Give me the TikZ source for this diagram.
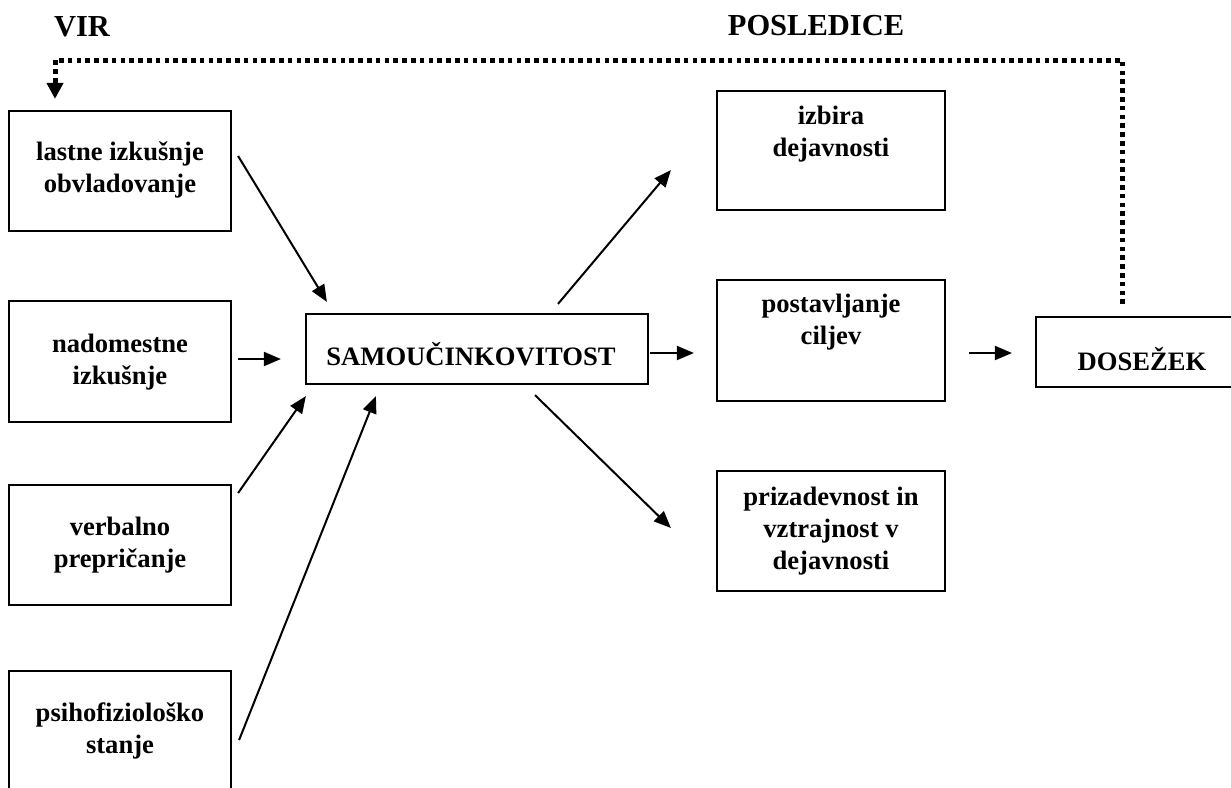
\documentclass[tikz,border=0pt]{standalone}
\usepackage{fontspec}
\setmainfont{Liberation Serif}
\usetikzlibrary{arrows.meta,calc}

\tikzset{
  box/.style={draw, line width=2.2pt, rectangle, inner sep=0pt, minimum width=222pt, minimum height=120pt},
  label/.style={align=center, inner sep=0pt, font=\fontsize{26.6}{32}\selectfont\bfseries},
  heading/.style={inner sep=0pt, font=\fontsize{30.5}{36}\selectfont\bfseries},
  flow/.style={line width=2pt, -{Triangle[length=17pt,width=14pt]}},
  feedback/.style={line width=5pt, dash pattern=on 4.6pt off 4.2pt, -{Triangle[length=16pt,width=16pt]}}
}

\begin{document}
\begin{tikzpicture}[x=1pt, y=-1pt]
\useasboundingbox (0,0) rectangle (1231,787);
\clip (0,0) rectangle (1231,787);

% headings
\node[heading] (vir) at (82,27) {VIR};
\node[heading] (posl) at (816,26) {POSLEDICE};

% sources
\node[box] (b1) at (120,171) {};
\node[box, minimum height=121pt] (b2) at (120,361.5) {};
\node[box] (b3) at (120,545) {};
\node[box] (b4) at (120,731) {};
\node[label] (t1) at (120,170) {lastne izkušnje\\ obvladovanje};
\node[label] (t2) at (120,362) {nadomestne\\izkušnje};
\node[label] (t3) at (120,545) {verbalno\\prepričanje};
\node[label] (t4) at (120,731) {psihofiziološko\\stanje};

% self-efficacy
\node[box, minimum width=342pt, minimum height=70pt] (sam) at (477,349) {};
\node[label] (tsam) at (471,354) {SAMOUČINKOVITOST};

% consequences
\node[box, minimum width=228pt, minimum height=119pt] (izb) at (831,150.5) {};
\node[box, minimum width=228pt, minimum height=121pt] (post) at (831,340.5) {};
\node[box, minimum width=228pt] (priz) at (831,531) {};
\node[label] (tizb) at (831,134) {izbira\\dejavnosti};
\node[label] (tpost) at (831,322) {postavljanje\\ciljev};
\node[label] (tpriz) at (831,531) {prizadevnost in\\vztrajnost v\\dejavnosti};

% achievement
\node[box, minimum width=212pt, minimum height=70pt] (dos) at (1142,352) {};
\node[label] (tdos) at (1142,359) {DOSEŽEK};

% arrows into SAMOUČINKOVITOST
\draw[flow] ($(b1.east)+(6,-15)$) -- ($(sam.north west)+(22,-11)$);
\draw[flow] ($(b2.east)+(6,-2.5)$) -- ($(sam.west)+(-24,10)$);
\draw[flow] ($(b3.east)+(6,-52)$) -- ($(sam.south west)+(1,11)$);
\draw[flow] ($(b4.east)+(7,9)$) -- ($(sam.south west)+(71,11)$);

% arrows out of SAMOUČINKOVITOST
\draw[flow] ($(sam.north)+(81,-9)$) -- ($(izb.west)+(-45,19.5)$);
\draw[flow] ($(sam.east)+(1,4)$) -- ($(post.west)+(-22,12.5)$);
\draw[flow] ($(sam.south)+(58,10)$) -- ($(priz.west)+(-45,-3)$);
\draw[flow] ($(post.east)+(23,12.5)$) -- ($(dos.west)+(-23,1)$);

% feedback loop
\coordinate (fbR) at (1122,60);
\coordinate (fbL) at (55,60);
\draw[feedback] ($(dos.north)+(-20,-12)$) -- (fbR) -- (fbL) -- ($(b1.north)+(-65,-11)$);
\end{tikzpicture}
\end{document}
